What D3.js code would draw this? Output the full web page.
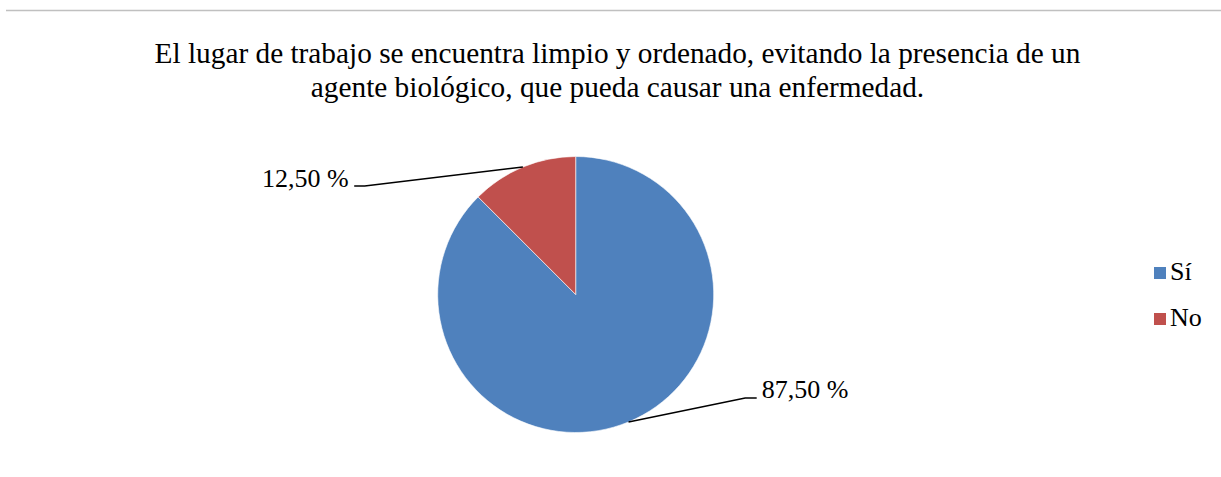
<!DOCTYPE html>
<html>
<head>
<meta charset="utf-8">
<script src="https://cdn.jsdelivr.net/npm/d3@7"></script>
<style>
  body { margin: 0; background: #fff; }
</style>
</head>
<body>
<div class="canvas"></div>
<script>
// Data
const categories = ['Sí', 'No'];
const values = [87.5, 12.5];
const valueLabels = ['87,50 %', '12,50 %'];
const titleLines = [
  'El lugar de trabajo se encuentra limpio y ordenado, evitando la presencia de un',
  'agente biológico, que pueda causar una enfermedad.'
];

const width = 1221, height = 477;
const center = { x: 575.7, y: 294.5 };
const radius = 138;
const fontSize = 26;
const titleSize = 29.3;
const fontFamily = "'Liberation Serif', 'Times New Roman', Times, serif";

const color = d3.scaleOrdinal()
  .domain(categories)
  .range(['#4F81BD', '#C0504D']);

const svg = d3.select('.canvas')
  .append('svg')
  .attr('width', width)
  .attr('height', height)
  .style('font-family', fontFamily);

// top rule
svg.append('line')
  .attr('x1', 6).attr('x2', width)
  .attr('y1', 10.5).attr('y2', 10.5)
  .attr('stroke', '#c0c0c0')
  .attr('stroke-width', 1.5);

// title
svg.append('g')
  .selectAll('text')
  .data(titleLines)
  .join('text')
  .attr('x', 617.5)
  .attr('y', (d, i) => 63 + i * 34)
  .attr('text-anchor', 'middle')
  .attr('font-family', fontFamily)
  .attr('font-size', titleSize)
  .text(d => d);

const data = categories.map((c, i) => ({ title: c, amount: values[i], label: valueLabels[i] }));

const pie = d3.pie()
  .sort(null)
  .value(d => d.amount);

const arcPath = d3.arc()
  .outerRadius(radius)
  .innerRadius(0);

const graph = svg.append('g')
  .attr('transform', `translate(${center.x}, ${center.y})`);

const arcs = pie(data);

graph.selectAll('path')
  .data(arcs)
  .join('path')
  .attr('d', arcPath)
  .attr('fill', d => color(d.data.title))
  .attr('stroke', '#fff')
  .attr('stroke-width', 0.6);

// label anchors (relative to pie centre): where the text sits and where the leader bends
const labelLayout = {
  'Sí': { textX: 186, textY: 103, anchor: 'start', bend: [169.5, 103.5], end: [181, 103.5] },
  'No': { textX: -227, textY: -108, anchor: 'end', bend: [-211, -108.5], end: [-221.5, -108.5] }
};

const leaders = graph.append('g');
arcs.forEach(a => {
  const mid = (a.startAngle + a.endAngle) / 2;
  const edge = [Math.sin(mid) * radius, -Math.cos(mid) * radius];
  const l = labelLayout[a.data.title];
  leaders.append('path')
    .attr('d', d3.line()([edge, l.bend, l.end]))
    .attr('fill', 'none')
    .attr('stroke', '#000')
    .attr('stroke-width', 1.5);
  leaders.append('text')
    .attr('x', l.textX)
    .attr('y', l.textY)
    .attr('text-anchor', l.anchor)
    .attr('font-family', fontFamily)
    .attr('font-size', fontSize)
    .text(a.data.label);
});

// legend
const legend = svg.append('g')
  .attr('transform', 'translate(1154, 267)');

const items = legend.selectAll('g')
  .data(categories)
  .join('g')
  .attr('transform', (d, i) => `translate(0, ${i * 46})`);

items.append('rect')
  .attr('width', 12)
  .attr('height', 12)
  .attr('fill', d => color(d));

items.append('text')
  .attr('x', 16)
  .attr('y', 13)
  .attr('font-family', fontFamily)
  .attr('font-size', fontSize)
  .text(d => d);
</script>
</body>
</html>
